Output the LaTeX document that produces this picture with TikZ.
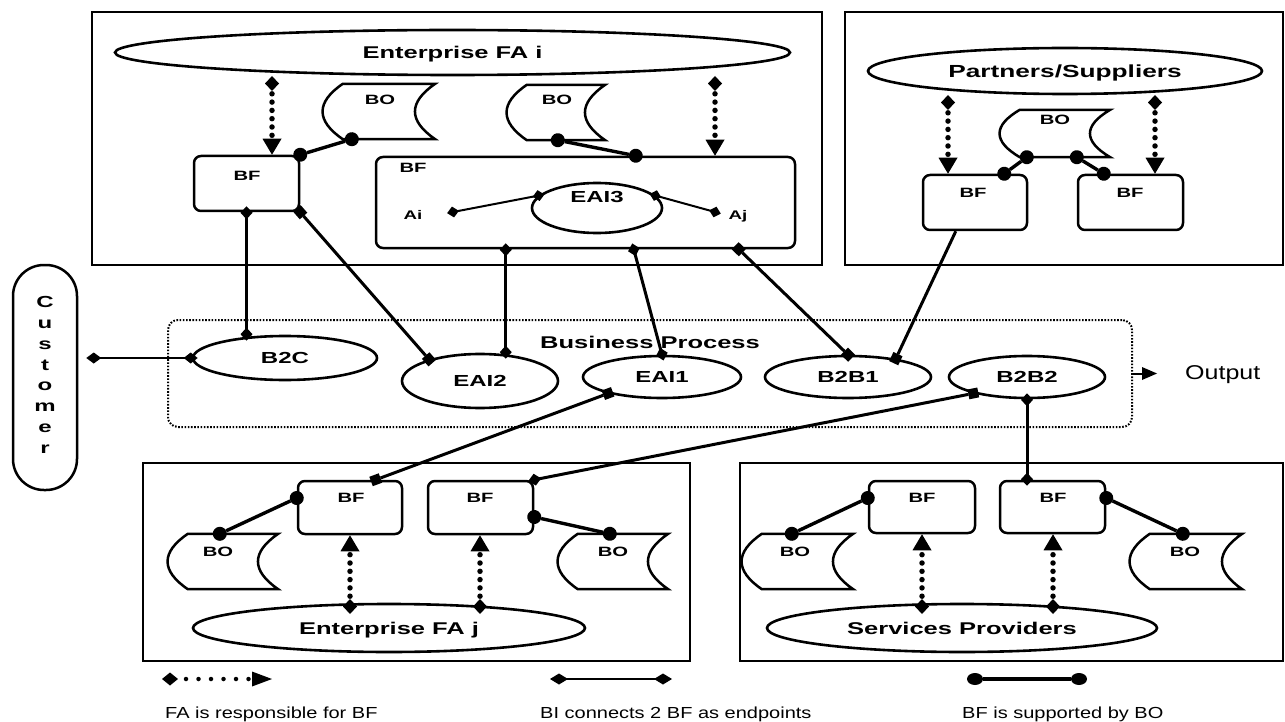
\documentclass[tikz,border=0pt]{standalone}
\usepackage{fontspec}
\setmainfont{Liberation Sans}[FakeStretch=1.25]
\newfontfamily\bfam{Liberation Sans}[FakeStretch=1.5]
\usetikzlibrary{arrows.meta,calc,shapes.geometric}
\newcommand\boshape[1]{%
  \draw[boline] let \p1=(#1.north west), \p2=(#1.south east), \n1={(\y1-\y2)/3} in
    ({\x1+20pt},\y1) -- (\x2,\y1)
    .. controls ({\x2-27pt},{\y1-\n1*1pt}) and ({\x2-27pt},{\y2+\n1*1pt}) .. (\x2,\y2)
    -- ({\x1+20pt},\y2)
    .. controls ({\x1-7pt},{\y2+\n1*1pt}) and ({\x1-7pt},{\y1-\n1*1pt}) .. ({\x1+20pt},\y1) -- cycle;}
\begin{document}
\begin{tikzpicture}[x=1pt,y=-1pt,
  frame/.style={draw, line width=2.6pt, inner sep=0pt},
  ell/.style={draw, ellipse, line width=2.6pt, inner sep=2pt},
  bfbox/.style={draw, rounded corners=7pt, line width=2.5pt, inner sep=0pt},
  boarea/.style={inner sep=0pt},
  boline/.style={line width=2.5pt, line join=miter},
  big/.style={font=\bfam\bfseries\fontsize{17}{20}\selectfont, text height=12.2pt, text depth=0pt},
  bigger/.style={font=\bfam\bfseries\fontsize{17.5}{21}\selectfont, text height=12.5pt, text depth=0pt},
  mid/.style={font=\bfam\bfseries\fontsize{16}{19}\selectfont, text height=11.5pt, text depth=0pt},
  sml/.style={font=\bfam\bfseries\fontsize{13.5}{16}\selectfont, text height=9.7pt, text depth=0pt, inner sep=0pt},
  tiny/.style={font=\bfam\bfseries\fontsize{12.5}{15}\selectfont, text height=9pt, text depth=0pt, inner sep=0pt},
  leg/.style={font=\fontsize{16}{19}\selectfont, inner sep=0pt},
  Di/.tip={Diamond[length=13pt,width=12pt,line width=0pt]},
  Sq/.tip={Square[length=10pt,line width=0pt]},
  Dot/.tip={Circle[length=14pt,line width=0pt]},
  Tri/.tip={Triangle[length=16pt,width=19pt,line width=0pt]},
  Dm/.tip={Diamond[length=15pt,width=14pt,line width=0pt]},
  fa/.style={line width=5.5pt, dash pattern=on 0pt off 8.3pt, line cap=round, arrows={Dm-Tri}},
  sup/.style={line width=3.4pt, shorten <=-7pt, shorten >=-7pt, arrows={Dot-Dot}},
  bl/.style={line width=3pt},
  ctr/.style={shorten <=-6pt, shorten >=-6pt},
  bithin/.style={line width=2pt, shorten <=-6pt, shorten >=-6pt, arrows={Diamond[length=12pt,width=11pt,line width=0pt]-Diamond[length=12pt,width=11pt,line width=0pt]}}
]
\useasboundingbox (0,0) rectangle (1285,722);

% ---------- frames ----------
\node[frame, minimum width=730pt, minimum height=253pt] (fFAi) at (457,138.5) {};
\node[frame, minimum width=438pt, minimum height=253pt] (fPS) at (1064,138.5) {};
\node[frame, minimum width=547pt, minimum height=198pt] (fFAj) at (416.5,562) {};
\node[frame, minimum width=543pt, minimum height=198pt] (fSP) at (1011.5,562) {};

% ---------- customer ----------
\node[draw, line width=2.5pt, rounded corners=31pt, minimum width=64pt, minimum height=225pt, inner sep=0pt] (cust) at (45,377.5) {};
\node[font=\bfam\bfseries\fontsize{16}{20.8}\selectfont, align=center, inner sep=0pt] (custlbl) at (45,375) {C\\u\\s\\t\\o\\m\\e\\r};

% ---------- business process ----------
\node[draw, line width=2pt, dash pattern=on 1.6pt off 1.6pt, rounded corners=10pt, minimum width=964pt, minimum height=107pt, inner sep=0pt] (bp) at (650,373.5) {};
\node[big] (bplbl) at (650,342) {Business Process};
\node[ell, mid, minimum width=184pt, minimum height=44pt] (B2C) at (285,358) {B2C};
\node[ell, mid, minimum width=156pt, minimum height=54pt] (EAI2) at (480,381) {EAI2};
\node[ell, mid, minimum width=158pt, minimum height=42pt] (EAI1) at (662,377) {EAI1};
\node[ell, mid, minimum width=166pt, minimum height=42pt] (B2B1) at (848,377) {B2B1};
\node[ell, mid, minimum width=156pt, minimum height=42pt] (B2B2) at (1027,377) {B2B2};

% ---------- Enterprise FA i ----------
\node[ell, big, minimum width=675pt, minimum height=45pt] (FAi) at (452.5,52.5) {Enterprise FA i};
\node[boarea, minimum width=112pt, minimum height=55pt] (boA) at (379,111.5) {};
\boshape{boA}
\node[sml] (boAt) at (380,100) {BO};
\node[boarea, minimum width=98pt, minimum height=55pt] (boB) at (556,112.5) {};
\boshape{boB}
\node[sml] (boBt) at (557,100) {BO};
\node[bfbox, minimum width=105pt, minimum height=55pt] (bfL) at (246.5,183.5) {};
\node[sml] (bfLt) at (247,176) {BF};
\node[bfbox, minimum width=419pt, minimum height=91pt] (bfBig) at (585.5,202.5) {};
\node[sml] (bfBigt) at (413,168) {BF};
\node[tiny] (ai) at (413,215) {Ai};
\node[tiny] (aj) at (738,215) {Aj};
\node[ell, minimum width=130pt, minimum height=50pt] (eai3) at (597,208) {};
\node[mid] (eai3t) at (597,197) {EAI3};

% ---------- Partners/Suppliers ----------
\node[ell, bigger, minimum width=394pt, minimum height=46pt] (PS) at (1065,71) {Partners/Suppliers};
\node[boarea, minimum width=110pt, minimum height=47pt] (boP) at (1055,133.5) {};
\boshape{boP}
\node[sml] (boPt) at (1055,120) {BO};
\node[bfbox, minimum width=104pt, minimum height=55pt] (bfP1) at (975,202.5) {};
\node[sml] (bfP1t) at (973,193) {BF};
\node[bfbox, minimum width=105pt, minimum height=55pt] (bfP2) at (1130.5,202.5) {};
\node[sml] (bfP2t) at (1130,193) {BF};

% ---------- Enterprise FA j ----------
\node[ell, big, minimum width=392pt, minimum height=48pt] (FAj) at (389,628) {Enterprise FA j};
\node[bfbox, minimum width=104pt, minimum height=53pt] (bfJ1) at (350,507.5) {};
\node[sml] (bfJ1t) at (351,498) {BF};
\node[bfbox, minimum width=105pt, minimum height=53pt] (bfJ2) at (480.5,507.5) {};
\node[sml] (bfJ2t) at (480,498) {BF};
\node[boarea, minimum width=110pt, minimum height=55pt] (boJ1) at (223,561.5) {};
\boshape{boJ1}
\node[sml] (boJ1t) at (218,552) {BO};
\node[boarea, minimum width=110pt, minimum height=55pt] (boJ2) at (613,561.5) {};
\boshape{boJ2}
\node[sml] (boJ2t) at (613,552) {BO};

% ---------- Services Providers ----------
\node[ell, big, minimum width=390pt, minimum height=48pt] (SP) at (962,628) {Services Providers};
\node[bfbox, minimum width=106pt, minimum height=52pt] (bfS1) at (922,507) {};
\node[sml] (bfS1t) at (922,498) {BF};
\node[bfbox, minimum width=105pt, minimum height=52pt] (bfS2) at (1052.5,507) {};
\node[sml] (bfS2t) at (1053,498) {BF};
\node[boarea, minimum width=111pt, minimum height=55pt] (boS1) at (797.5,561.5) {};
\boshape{boS1}
\node[sml] (boS1t) at (795,552) {BO};
\node[boarea, minimum width=112pt, minimum height=55pt] (boS2) at (1186,561.5) {};
\boshape{boS2}
\node[sml] (boS2t) at (1185,552) {BO};

% ---------- FA responsibility arrows ----------
\coordinate (fa1) at (272,76);
\coordinate (fa2) at (715,76);
\coordinate (fa3) at (948,95);
\coordinate (fa4) at (1155,95);
\coordinate (fa5) at (350,614);
\coordinate (fa6) at (480,614);
\coordinate (fa7) at (922,614);
\coordinate (fa8) at (1053,614);
\draw[fa] (fa1) -- (fa1 |- bfL.north);
\draw[fa] (fa2) -- (fa2 |- bfBig.north);
\draw[fa] (fa3) -- (fa3 |- bfP1.north);
\draw[fa] (fa4) -- (fa4 |- bfP2.north);
\draw[fa] (fa5) -- (fa5 |- bfJ1.south);
\draw[fa] (fa6) -- (fa6 |- bfJ2.south);
\draw[fa] (fa7) -- (fa7 |- bfS1.south);
\draw[fa] (fa8) -- (fa8 |- bfS2.south);

% ---------- BO support ----------
\draw[sup] ($(boA.south west)+(29,0)$) -- (bfL.north east);
\draw[sup] ($(boB.south west)+(51,0)$) -- ($(bfBig.north west)+(261,0)$);
\draw[sup] ($(boP.south west)+(27,0)$) -- ($(bfP1.north east)+(-24,0)$);
\draw[sup] ($(boP.south west)+(77,0)$) -- ($(bfP2.north west)+(27,0)$);
\draw[sup] ($(boJ1.north west)+(52,0)$) -- ($(bfJ1.west)+(0,-9.5)$);
\draw[sup] ($(bfJ2.east)+(0,9.5)$) -- ($(boJ2.north west)+(52,0)$);
\draw[sup] ($(boS1.north west)+(50,0)$) -- ($(bfS1.west)+(0,-9)$);
\draw[sup] ($(bfS2.east)+(0,-9)$) -- ($(boS2.north west)+(53,0)$);

% ---------- EAI3 inside BF ----------
\coordinate (aiD) at (453,212);
\coordinate (ajD) at (715,212);
\draw[bithin] (aiD) -- (eai3.168);
\draw[bithin] (eai3.12) -- (ajD);

% ---------- BI connectors ----------
\coordinate (bb1) at ($(bfBig.south west)+(131,0)$);
\coordinate (bb2) at ($(bfBig.south west)+(259,0)$);
\coordinate (bb3) at ($(bfBig.south west)+(364,0)$);
\coordinate (bp1) at ($(bfP1.south west)+(34,0)$);
\draw[bl, ctr, arrows={Di-Di}] (bfL.south) -- (bfL.south |- B2C.north);
\draw[bl, shorten <=-5pt, shorten >=-5pt, arrows={Sq-Sq}] (bfL.south east) -- (EAI2.157);
\draw[bl, ctr, arrows={Di-Di}] (bb1) -- (bb1 |- EAI2.north);
\draw[bl, ctr, arrows={Di-Di}] (bb2) -- (EAI1.north);
\draw[bl, shorten <=-5pt, shorten >=-5pt, arrows={Sq-Sq}] (bb3) -- (B2B1.north);
\draw[bl, shorten >=-5pt, arrows={-Sq}] (bp1) -- (B2B1.21);
\draw[bl, shorten <=-5pt, shorten >=-5pt, arrows={Sq-Sq}] (EAI1.197) -- ($(bfJ1.north west)+(79,0)$);
\draw[bl, shorten <=-5pt, shorten >=-6pt, arrows={Sq-Di}] (B2B2.197) -- (bfJ2.north east);
\draw[bl, ctr, arrows={Di-Di}] (B2B2.south) -- (B2B2.south |- bfS2.north);
\coordinate (custD) at ($(cust.east)+(8,0)$);
\draw[line width=2pt, shorten >=-6pt, arrows={Diamond[length=15pt,width=11pt,line width=0pt]-Diamond[length=14pt,width=11pt,line width=0pt]}] (custD |- B2C.west) -- (B2C.west);

% ---------- output ----------
\coordinate (outtip) at (1157,373.5);
\draw[line width=2pt, arrows={-Triangle[length=15pt,width=13pt,line width=0pt]}] (bp.east) -- (outtip);
\node[font=\fontsize{20}{24}\selectfont, text height=14.3pt, text depth=0pt, inner sep=0pt, anchor=west] (outlbl) at (1185,372) {Output};

% ---------- legend ----------
\coordinate (lg1a) at (162,679);
\coordinate (lg1b) at (272,679);
\coordinate (lg2a) at (550,679);
\coordinate (lg2b) at (672,679);
\coordinate (lg3a) at (967,679);
\coordinate (lg3b) at (1087,679);
\draw[line width=4.5pt, dash pattern=on 0pt off 12.5pt, line cap=round, arrows={Diamond[length=16pt,width=13pt,line width=0pt]-Triangle[length=20pt,width=15pt,line width=0pt]}] (lg1a) -- (lg1b);
\draw[line width=2.6pt, arrows={Diamond[length=18pt,width=11pt,line width=0pt]-Diamond[length=18pt,width=11pt,line width=0pt]}] (lg2a) -- (lg2b);
\draw[line width=3.2pt, arrows={Ellipse[length=16pt,width=12pt,line width=0pt]-Ellipse[length=16pt,width=12pt,line width=0pt]}] (lg3a) -- (lg3b);
\node[leg, anchor=base west] (lt1) at (165,718) {FA is responsible for BF};
\node[leg, anchor=base west] (lt2) at (540,718) {BI connects 2 BF as endpoints};
\node[leg, anchor=base west] (lt3) at (962,718) {BF is supported by BO};
\end{tikzpicture}
\end{document}
